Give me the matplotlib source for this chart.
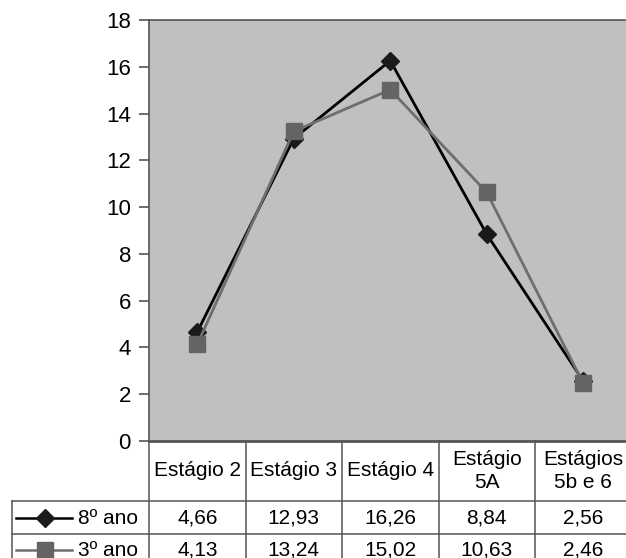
import matplotlib
matplotlib.use("Agg")
import matplotlib.pyplot as plt
from matplotlib.lines import Line2D
from matplotlib.transforms import blended_transform_factory

plt.rcParams['font.family'] = ['Liberation Sans', 'DejaVu Sans']

categories = ["Estágio 2", "Estágio 3", "Estágio 4", "Estágio\n5A", "Estágios\n5b e 6"]
ano8 = [4.66, 12.93, 16.26, 8.84, 2.56]
ano3 = [4.13, 13.24, 15.02, 10.63, 2.46]
labels8 = ["4,66", "12,93", "16,26", "8,84", "2,56"]
labels3 = ["4,13", "13,24", "15,02", "10,63", "2,46"]

W, H = 626, 558
fig = plt.figure(figsize=(W / 100, H / 100), dpi=100)

def fy(py):
    return (H - py) / H

def fx(px):
    return px / W

ax = fig.add_axes([fx(149), fy(441), fx(482.5), (441 - 20) / H])
ax.set_facecolor("#c0c0c0")
x = list(range(len(categories)))

c8, m8 = "black", "#1a1a1a"
c3, m3 = "#6e6e6e", "#646464"
ax.plot(x, ano8, color=c8, lw=2, marker="D", ms=9,
        mfc=m8, mec=m8, zorder=3)
ax.plot(x, ano3, color=c3, lw=2, marker="s", ms=12,
        mfc=m3, mec=m3, zorder=4)

ax.set_xlim(-0.5, len(categories) - 0.5)
ax.set_ylim(0, 18)
ax.set_yticks(range(0, 19, 2))
ax.set_xticks([])
ax.tick_params(axis="y", direction="out", length=7, width=1.2,
               color="#555555", labelsize=16, pad=6)
for s in ax.spines.values():
    s.set_color("#555555")
    s.set_linewidth(1.2)
ax.spines["bottom"].set_linewidth(2)
ax.spines["right"].set_visible(False)

# table below the axes
tr = blended_transform_factory(ax.transData, fig.transFigure)
lc = "#555555"
fs = 15
for i in range(len(categories) + 1):
    b = i - 0.5
    fig.add_artist(Line2D([b, b], [fy(441), fy(560)], transform=tr,
                          color=lc, lw=1.1, clip_on=False))
for py in (501, 534):
    fig.add_artist(Line2D([fx(12), 1.0], [fy(py), fy(py)],
                          transform=fig.transFigure, color=lc, lw=1.1))
fig.add_artist(Line2D([fx(12), fx(12)], [fy(501), fy(560)],
                      transform=fig.transFigure, color=lc, lw=1.1))

for i, c in enumerate(categories):
    fig.text(i, fy(471), c, transform=tr, ha="center", va="center",
             fontsize=fs, linespacing=1.3)
    fig.text(i, fy(518), labels8[i], transform=tr, ha="center",
             va="center", fontsize=fs)
    fig.text(i, fy(550), labels3[i], transform=tr, ha="center",
             va="center", fontsize=fs)

# legend keys in the row labels
for py, col, mk, ms, mc, name in [(518, c8, "D", 9, m8, "8º ano"),
                                  (550, c3, "s", 12, m3, "3º ano")]:
    fig.add_artist(Line2D([fx(16), fx(72)], [fy(py), fy(py)],
                          transform=fig.transFigure, color=col, lw=1.8))
    fig.add_artist(Line2D([fx(45)], [fy(py)], transform=fig.transFigure,
                          marker=mk, ms=ms, mfc=mc, mec=mc))
    fig.text(fx(78), fy(py), name, ha="left", va="center", fontsize=fs)

fig.savefig("out.png", dpi=100)
